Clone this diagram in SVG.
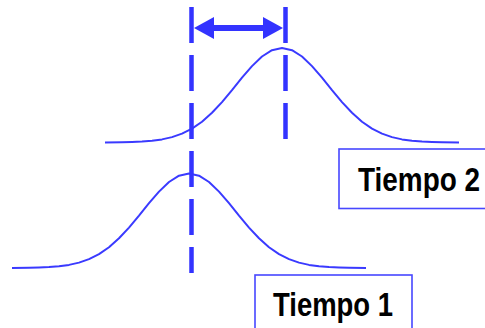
<svg xmlns="http://www.w3.org/2000/svg" xmlns:xlink="http://www.w3.org/1999/xlink" width="485" height="328" viewBox="0 0 485 328">
<style>
.curve{fill:none;stroke:#3a3aff;stroke-width:2;stroke-linejoin:round;stroke-linecap:butt}
.dash{fill:none;stroke:#3333ff;stroke-width:4.5;stroke-dasharray:36 12}
.box{fill:#ffffff;stroke:#4747ff;stroke-width:1.6}
.lbl{font-family:"Liberation Sans",Arial,sans-serif;font-weight:bold;font-size:33px;fill:#000000}
.arrow{stroke:#3333ff;stroke-width:6;fill:none}
.head{fill:#3333ff}
</style>
<defs>
<polyline id="bell" points="12,268 29,267.8 39,267.5 49,267.1 59,266.3 69,264.9 79,262.6 89,259.1 99,254.1 109,247.2 119,238.3 129,227.6 139,215.7 149,203.2 159,191.6 169,182 179,175.7 189,173.5 199,175.7 209,182 219,191.6 229,203.2 239,215.7 249,227.6 259,238.3 269,247.2 279,254.1 289,259.1 299,262.6 309,264.9 319,266.3 329,267.1 339,267.5 349,267.8 366,268"/>
</defs>
<g id="curve-tiempo-1">
<use xlink:href="#bell" href="#bell" class="curve"/>
</g>
<g id="curve-tiempo-2">
<use xlink:href="#bell" href="#bell" class="curve" transform="translate(93,-125.5)"/>
</g>
<g id="connectors">
<line class="dash" x1="191.5" y1="7" x2="191.5" y2="273"/>
<line class="dash" x1="285.5" y1="7" x2="285.5" y2="139"/>
<line class="arrow" x1="210" y1="28" x2="267" y2="28"/>
<polygon class="head" points="194,28 214,17 214,39"/>
<polygon class="head" points="283,28 263,17 263,39"/>
</g>
<g id="label-tiempo-2">
<rect class="box" x="339" y="149" width="160" height="59.5"/>
<text class="lbl" x="358" y="191" textLength="122" lengthAdjust="spacingAndGlyphs">Tiempo 2</text>
</g>
<g id="label-tiempo-1">
<rect class="box" x="255" y="275" width="157" height="70"/>
<text class="lbl" x="273" y="315.5" textLength="120" lengthAdjust="spacingAndGlyphs">Tiempo 1</text>
</g>
</svg>
